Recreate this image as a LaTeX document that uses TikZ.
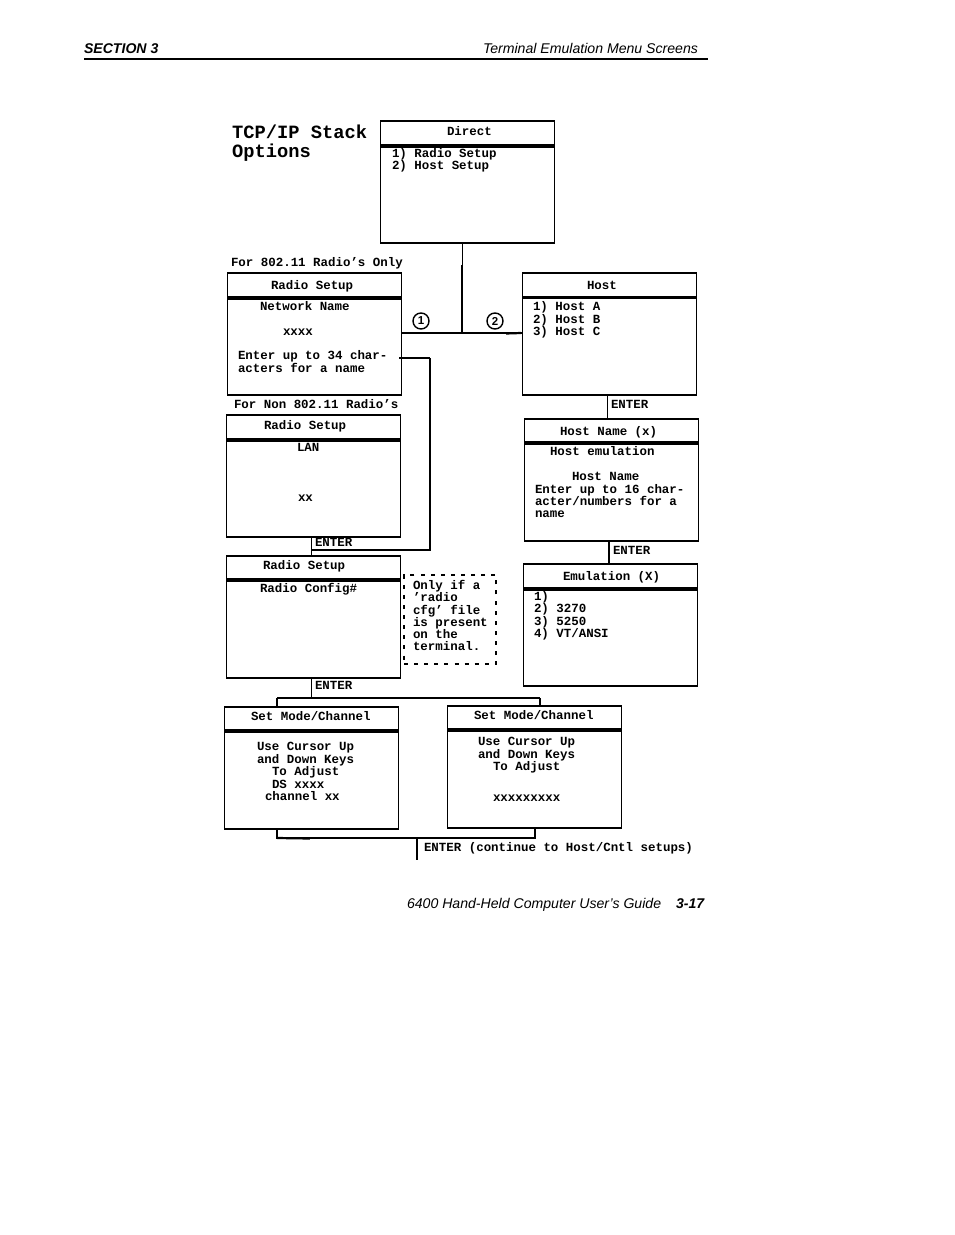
\documentclass[tikz,border=0pt]{standalone}
\usepackage{fontspec}
\setmainfont{Liberation Sans}
\newfontfamily\monof{Liberation Mono}
\tikzset{
  x=1pt,y=-1pt,
  scr/.style={draw,line width=1.4pt,inner sep=0pt,outer sep=0pt,minimum width=174pt,minimum height=122pt},
  bar/.style={line width=3.4pt},
  conn/.style={line width=1.4pt},
  thinconn/.style={line width=1pt},
  heavy/.style={line width=2.2pt},
  note/.style={draw,line width=1.3pt,dash pattern=on 4pt off 6.1pt,inner sep=0pt,outer sep=0pt,minimum width=92pt,minimum height=89pt},
  txt/.style={anchor=base west,inner sep=0pt,outer sep=0pt,yshift=0.3pt,font=\monof\bfseries\fontsize{12.45pt}{12.45pt}\selectfont},
  ttl/.style={anchor=base west,inner sep=0pt,outer sep=0pt,font=\monof\bfseries\fontsize{18.75pt}{18.75pt}\selectfont},
  mark1/.style={circle,draw,line width=1.4pt,inner sep=0pt,minimum size=16pt,font=\bfseries\fontsize{11.5pt}{11.5pt}\selectfont},
  pageit/.style={anchor=base west,inner sep=0pt,outer sep=0pt,font=\itshape\fontsize{14.1pt}{14.1pt}\selectfont},
  pagebf/.style={anchor=base west,inner sep=0pt,outer sep=0pt,font=\bfseries\itshape\fontsize{14.1pt}{14.1pt}\selectfont},
}
\newcommand\tl[4]{\node[txt] (#1) at (#2,#3) {#4};}
\newcommand\screen[4]{% name, x-left, y-top, y-bar
  \node[scr] (#1) at (#2+87,#3+61) {};
  \draw[bar] (#1.west |- 0,#4) -- (#1.east |- 0,#4);
}
\begin{document}
\begin{tikzpicture}
\useasboundingbox (0,0) rectangle (954,1235);
\fill[white] (0,0) rectangle (954,1235);
% page header and footer
\node[pagebf] (sect) at (84,53) {SECTION 3};
\node[pageit] (chap) at (483,53) {Terminal Emulation Menu Screens};
\coordinate (ruleL) at (84,59);
\coordinate (ruleR) at (708,59);
\draw[line width=2pt] (ruleL) -- (ruleR);
\node[pageit] (guide) at (407,908) {6400 Hand-Held Computer User’s Guide};
\node[pagebf] (pg) at (676,908) {3-17};
% title
\node[ttl] (title1) at (232,138) {TCP/IP Stack};
\node[ttl] (title2) at (232,157) {Options};
% screens
\screen{direct}{380.5}{121}{146}
\screen{radioa}{227.5}{273}{298}
\screen{host}{522.5}{273}{297.5}
\screen{radiob}{226.5}{415}{440}
\screen{hostname}{524.5}{419}{443}
\screen{radioc}{226.5}{556}{580}
\screen{emul}{523.5}{564}{589}
\screen{modeL}{224.5}{707}{731}
\screen{modeR}{447.5}{706}{730}
\node[note] (onlyif) at (450,619.5) {};
% connectors
\coordinate (j0) at (462,265);
\coordinate (j1) at (462,333);
\coordinate (jr) at (521,333);
\coordinate (ra) at (399,358);
\coordinate (ra2) at (418,358);
\coordinate (rb) at (430,358);
\coordinate (rb2) at (430,501);
\coordinate (rc) at (430,550);
\coordinate (e1b) at (340,550);
\coordinate (e1) at (311,550);
\coordinate (e2) at (607,405);
\coordinate (e3) at (609,550);
\coordinate (e4) at (311,698);
\coordinate (sl) at (277,698);
\coordinate (sr) at (540,698);
\coordinate (bl) at (277,838);
\coordinate (bm) at (417,838);
\coordinate (bme) at (417,860);
\coordinate (brr) at (535,838);
\coordinate (blh) at (310,838.5);
\coordinate (jrh) at (506,333.5);
\draw[thinconn] (j1 |- direct.south) -- (j0);
\draw[conn] (j0) -- (j1);
\draw[conn] (radioa.east |- j1) -- (jr);
\draw[heavy] (jrh) -- (jr);
\draw[conn] (jr) -- (host.west |- jr);
\draw[heavy] (ra) -- (ra2);
\draw[conn] (ra2) -- (rb);
\draw[heavy] (rb |- ra) -- (rb2);
\draw[conn] (rb2) -- (rc) -- (e1);
\draw[heavy] (e1b) -- (e1);
\draw[thinconn] (e1 |- radiob.south) -- (e1 |- radioc.north);
\draw[thinconn] (e2 |- host.south) -- (e2 |- hostname.north);
\draw[conn] (e3 |- hostname.south) -- (e3 |- emul.north);
\draw[thinconn] (e4 |- radioc.south) -- (e4);
\draw[conn] (sl) -- (sr);
\draw[conn] (sl) -- (sl |- modeL.north);
\draw[conn] (sr) -- (sr |- modeR.north);
\draw[conn] (bl |- modeL.south) -- (bl) -- (brr) -- (brr |- modeR.south);
\draw[heavy] (bl) -- (blh);
\draw[conn] (bm) -- (bme);
\node[mark1] (m1) at (421,321) {1};
\node[mark1] (m2) at (495,321) {2};
% texts
\tl{a1}{447}{136}{Direct}
\tl{a2}{392}{158}{1) Radio Setup}
\tl{a3}{392}{170}{2) Host Setup}
\tl{b0}{231}{267}{For 802.11 Radio’s Only}
\tl{b1}{271}{290}{Radio Setup}
\tl{b2}{260}{311}{Network Name}
\tl{b3}{283}{336}{xxxx}
\tl{b4}{238}{360}{Enter up to 34 char-}
\tl{b5}{238}{373}{acters for a name}
\tl{c1}{587}{290}{Host}
\tl{c2}{533}{311}{1) Host A}
\tl{c3}{533}{323.5}{2) Host B}
\tl{c4}{533}{336}{3) Host C}
\tl{c5}{611}{409}{ENTER}
\tl{d0}{234}{409}{For Non 802.11 Radio’s}
\tl{d1}{264}{430}{Radio Setup}
\tl{d2}{297}{451.5}{LAN}
\tl{d3}{298}{502}{xx}
\tl{d4}{315}{547}{ENTER}
\tl{f1}{560}{435.5}{Host Name (x)}
\tl{f2}{550}{456}{Host emulation}
\tl{f3}{572}{481}{Host Name}
\tl{f4}{535}{494}{Enter up to 16 char-}
\tl{f5}{535}{506}{acter/numbers for a}
\tl{f6}{535}{518}{name}
\tl{f7}{613}{555}{ENTER}
\tl{g1}{263}{570}{Radio Setup}
\tl{g2}{260}{593}{Radio Config\#}
\tl{g3}{315}{690}{ENTER}
\tl{h1}{563}{581}{Emulation (X)}
\tl{h2}{534}{601}{1)}
\tl{h3}{534}{613}{2) 3270}
\tl{h4}{534}{625.5}{3) 5250}
\tl{h5}{534}{638}{4) VT/ANSI}
\tl{n1}{413}{590}{Only if a}
\tl{n2}{413}{602}{’radio}
\tl{n3}{413}{614.5}{cfg’ file}
\tl{n4}{413}{627}{is present}
\tl{n5}{413}{639}{on the}
\tl{n6}{413}{651}{terminal.}
\tl{p1}{251}{721}{Set Mode/Channel}
\tl{p2}{257}{751}{Use Cursor Up}
\tl{p3}{257}{763.5}{and Down Keys}
\tl{p4}{272}{776}{To Adjust}
\tl{p5}{272}{789}{DS xxxx}
\tl{p6}{265}{801}{channel xx}
\tl{q1}{474}{720}{Set Mode/Channel}
\tl{q2}{478}{746}{Use Cursor Up}
\tl{q3}{478}{759}{and Down Keys}
\tl{q4}{493}{771}{To Adjust}
\tl{q5}{493}{802}{xxxxxxxxx}
\tl{r1}{424}{852}{ENTER (continue to Host/Cntl setups)}
\end{tikzpicture}
\end{document}
